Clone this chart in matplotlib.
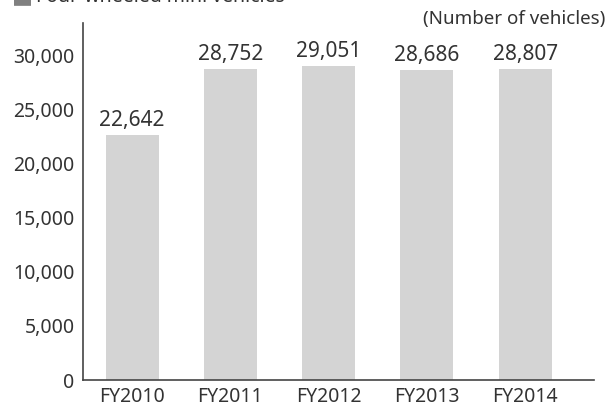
import matplotlib.pyplot as plt

years = ["FY2010", "FY2011", "FY2012", "FY2013", "FY2014"]
vehicles = [22642, 28752, 29051, 28686, 28807]
yticks = [0, 5000, 10000, 15000, 20000, 25000, 30000]

text_color = "#333333"
plt.rcParams["font.family"] = ["Noto Sans", "DejaVu Sans"]
plt.rcParams["font.weight"] = "light"

fig = plt.figure(figsize=(6.08, 4.12), dpi=100)
ax = fig.add_axes([83 / 608, 1 - 380 / 412, (594 - 83) / 608, (380 - 23) / 412])

x = range(len(years))
ax.bar(x, vehicles, width=0.54, color="#d4d4d4", zorder=2)

for i, v in zip(x, vehicles):
    ax.text(i, v + 400, f"{v:,}", ha="center", va="bottom", fontsize=15, color=text_color)

ax.set_xlim(-0.5, 4.7)
ax.set_ylim(0, 33050)
ax.set_xticks(list(x))
ax.set_xticklabels(years)
ax.set_yticks(yticks)
ax.set_yticklabels([f"{t:,}" for t in yticks])
ax.tick_params(axis="both", length=0, labelsize=14, colors=text_color)
ax.tick_params(axis="y", pad=6)
ax.tick_params(axis="x", pad=5)

for side in ["top", "right"]:
    ax.spines[side].set_visible(False)
ax.spines["left"].set_color("#444444")
ax.spines["bottom"].set_color("#444444")
ax.spines["left"].set_linewidth(1.2)
ax.spines["bottom"].set_linewidth(1.2)

fig.text(12 / 608, 1 - 2 / 412, "■", ha="left", va="baseline", fontsize=16,
         family=["DejaVu Sans"], fontweight="normal", color="#808080")
fig.text(36 / 608, 1 - 2 / 412, "Four-wheeled mini vehicles", ha="left", va="baseline",
         fontsize=14, color=text_color)
fig.text(605 / 608, 1 - 19 / 412, "(Number of vehicles)", ha="right", va="center",
         fontsize=13.5, color=text_color)

fig.savefig("out.png", dpi=100)
